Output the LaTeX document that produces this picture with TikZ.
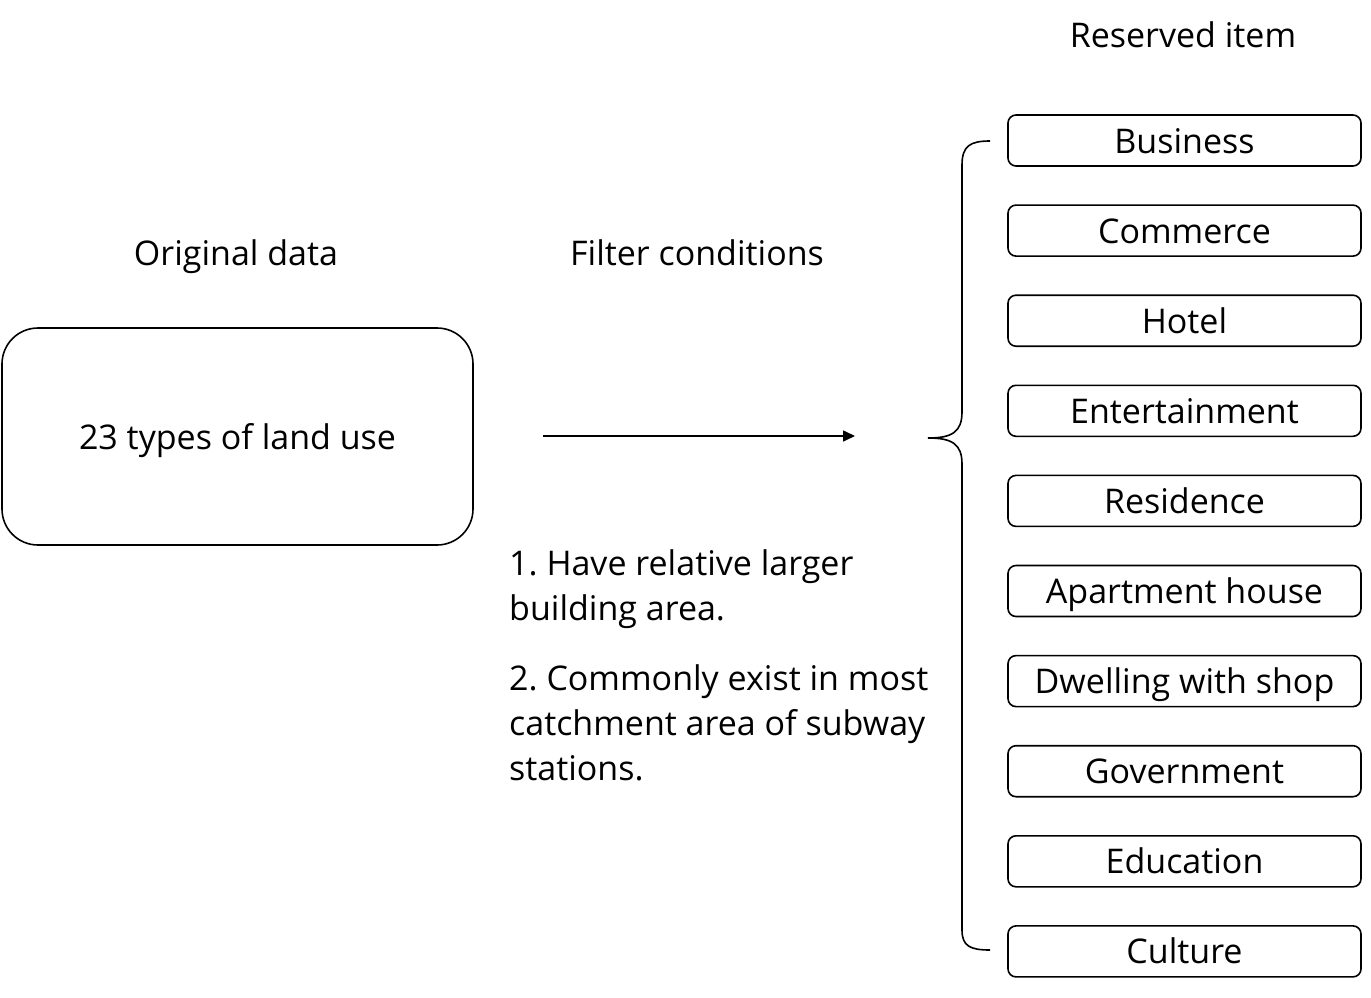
\documentclass[tikz,border=0pt]{standalone}
\usepackage{fontspec}
\setmainfont{Open Sans}
\usetikzlibrary{arrows.meta}
\frenchspacing
\begin{document}
\begin{tikzpicture}[x=1pt,y=-1pt,
  txt/.style={font=\fontsize{34}{45}\selectfont, inner sep=0pt, anchor=base},
  item/.style={draw, line width=1.6pt, rounded corners=8pt, minimum width=353pt, minimum height=51pt, inner sep=0pt, text height=25pt, text depth=0pt, font=\fontsize{34}{40}\selectfont},
  bigbox/.style={draw, line width=1.6pt, rounded corners=36pt, minimum width=471pt, minimum height=217pt, text height=25pt, text depth=0pt, font=\fontsize{34}{40}\selectfont},
  conn/.style={line width=1.6pt}]
\useasboundingbox (0,0) rectangle (1371,998);
\node[bigbox] (orig) at (237.5,436.5) {23 types of land use};
\node[txt] (origlabel) at (236,265) {Original data};
\node[txt] (filterlabel) at (697,265) {Filter conditions};
\node[txt] (reslabel) at (1183,48) {Reserved item};
\node[txt, anchor=base west, align=left] (cond1) at (509,620) {1. Have relative larger\\building area.};
\node[txt, anchor=base west, align=left] (cond2) at (509,780) {2. Commonly exist in most\\catchment area of subway\\stations.};
\coordinate (astart) at (543,436);
\coordinate (aend) at (855,436);
\draw[conn, -{Triangle[length=12pt,width=11pt]}] (astart) -- (aend);
\foreach \name/\t [count=\i from 0] in {b1/Business,b2/Commerce,b3/Hotel,b4/Entertainment,b5/Residence,b6/Apartment house,b7/Dwelling with shop,b8/Government,b9/Education,b10/Culture}{
  \node[item] (\name) at (1184.5,140.5+90.1*\i) {\t};
}
\draw[conn] (990,141) .. controls (970,141) and (962,146) .. (962,165)
  -- (962,412) .. controls (962,432) and (952,438) .. (928,438)
  .. controls (952,438) and (962,444) .. (962,464)
  -- (962,930) .. controls (962,946) and (970,950) .. (990,950);
\end{tikzpicture}
\end{document}
